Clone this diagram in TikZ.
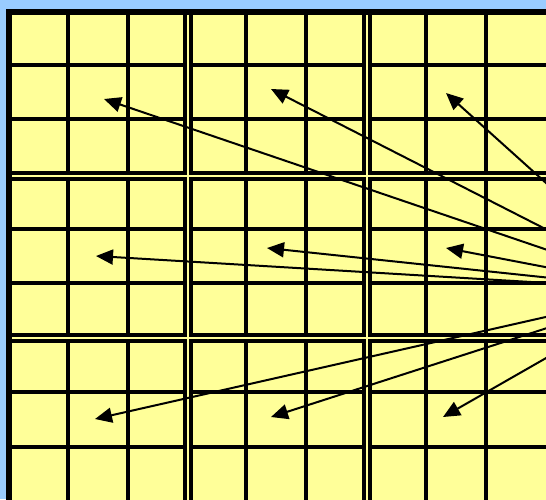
\documentclass[tikz,border=0pt]{standalone}
\usepackage{tikz}
\usetikzlibrary{arrows.meta}
\definecolor{gridyellow}{HTML}{FFFF99}
\definecolor{skyblue}{HTML}{99CCFF}

\begin{document}
\begin{tikzpicture}[x=1pt, y=-1pt,
        thinline/.style={black, line width=4pt},
        blockline/.style={black, line width=10pt},
        gapline/.style={gridyellow, line width=2pt},
        pointer/.style={-{Triangle[length=17pt, width=15pt]}, line width=2pt}]
        % Page and background
        \useasboundingbox (0,0) rectangle (546,499);
        \fill[skyblue] (0,0) rectangle (546,499);
        \clip (0,0) rectangle (546,499);
        \fill[gridyellow] (9,12) rectangle (600,560);

        % Cell lines
        \foreach \x in {68,128,246,306,426,486}
            \draw[thinline] (\x,12) -- (\x,560);
        \foreach \y in {65,119,229,283,392,447}
            \draw[thinline] (9,\y) -- (600,\y);

        % Block lines (double)
        \foreach \x in {188,367}
            \draw[blockline] (\x,12) -- (\x,560);
        \foreach \y in {176,338}
            \draw[blockline] (9,\y) -- (600,\y);
        \foreach \x in {188,367}
            \draw[gapline] (\x,15) -- (\x,560);
        \foreach \y in {176,338}
            \draw[gapline] (12,\y) -- (600,\y);

        % Outer border
        \draw[black, line width=6pt] (9,12) rectangle (620,580);

        % Arrow source and block targets
        \coordinate (src) at (665,290);
        \coordinate (t11) at (104,99);
        \coordinate (t12) at (271,89);
        \coordinate (t13) at (446,93);
        \coordinate (t21) at (96,256);
        \coordinate (t22) at (267,248);
        \coordinate (t23) at (446,248);
        \coordinate (t31) at (95,419);
        \coordinate (t32) at (271,417);
        \coordinate (t33) at (443,417);

        % Arrows
        \foreach \t in {t11,t12,t13,t21,t22,t23,t31,t32,t33}
            \draw[pointer] (src) -- (\t);
    \end{tikzpicture}
\end{document}
